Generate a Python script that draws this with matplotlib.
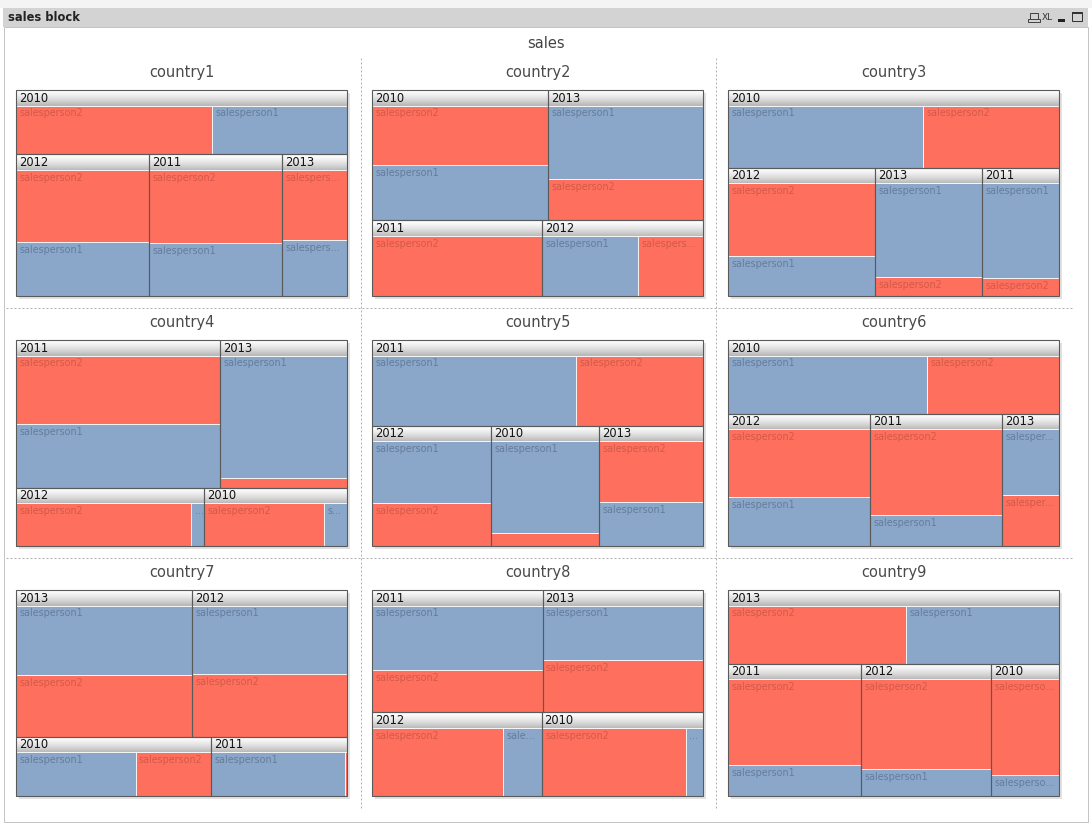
import numpy as np
import matplotlib
matplotlib.use("Agg")
import matplotlib.pyplot as plt
from matplotlib.patches import Rectangle

# data (sales per country / year / salesperson)
countries = ["country1", "country2", "country3",
             "country4", "country5", "country6",
             "country7", "country8", "country9"]
# years in the order they are laid out (largest first)
years = [
    ["2010", "2012", "2011", "2013"],
    ["2010", "2013", "2011", "2012"],
    ["2010", "2012", "2013", "2011"],
    ["2011", "2013", "2012", "2010"],
    ["2011", "2012", "2010", "2013"],
    ["2010", "2012", "2011", "2013"],
    ["2013", "2012", "2010", "2011"],
    ["2011", "2013", "2012", "2010"],
    ["2013", "2011", "2012", "2010"],
]
salesperson1 = [
    [127, 119, 115, 60],
    [162, 190, 0, 107],
    [222, 99, 168, 121],
    [214, 254, 11, 20],
    [257, 124, 168, 76],
    [215, 116, 67, 62],
    [200, 174, 104, 116],
    [185, 147, 47, 21],
    [165, 69, 59, 24],
]
salesperson2 = [
    [184, 158, 161, 76],
    [174, 106, 190, 72],
    [155, 177, 35, 23],
    [228, 21, 150, 102],
    [159, 86, 24, 107],
    [143, 160, 189, 48],
    [179, 159, 66, 2],
    [121, 141, 161, 177],
    [193, 189, 194, 107],
]
# how many years sit in the top row of each block
top_row = [1, 2, 1, 2, 1, 1, 2, 2, 1]

sp_names = ["salesperson1", "salesperson2"]
sp_colors = {"salesperson1": "#8aa7c9", "salesperson2": "#fe705d"}
sp_text = {"salesperson1": "#667c9b", "salesperson2": "#d25a4a"}

W, H = 1092, 825
fig = plt.figure(figsize=(W / 100, H / 100), dpi=100)
fig.patch.set_facecolor("white")
ax = fig.add_axes([0, 0, 1, 1])
ax.set_xlim(0, W)
ax.set_ylim(H, 0)
ax.axis("off")
renderer = fig.canvas.get_renderer()
PX = 0.72  # one pixel in points

# window frame
ax.add_patch(Rectangle((0, 0), W, 8, color="#f4f4f4", lw=0))
ax.add_patch(Rectangle((3, 8), 1085, 19, color="#d3d3d3", lw=0))
ax.add_patch(Rectangle((3.5, 27), 1084, 795, fc="white", ec="#c4c4c4", lw=PX))
ax.text(8, 17.5, "sales block", fontsize=8.3, fontweight="bold", color="#222222",
        va="center", ha="left")
ax.add_patch(Rectangle((1030, 13), 8, 6, fc="none", ec="#444444", lw=PX))
ax.add_patch(Rectangle((1028, 19), 12, 3, fc="none", ec="#444444", lw=PX))
ax.text(1042, 17.5, "XL", fontsize=6.5, color="#333333", va="center", ha="left")
ax.add_patch(Rectangle((1058, 19), 7, 2.5, color="#222222", lw=0))
ax.add_patch(Rectangle((1072, 12), 10, 9, fc="none", ec="#333333", lw=PX))
ax.add_patch(Rectangle((1072, 12), 10, 2, color="#333333", lw=0))

ax.text(546, 43, "sales", fontsize=10.5, color="#444444", ha="center", va="center")

# dashed separators between the small multiples
for xs in (361, 716):
    ax.plot([xs, xs], [58, 808], ls=(0, (2, 2)), color="#b0b0b0", lw=PX)
for ys in (308, 558):
    ax.plot([6, 1072], [ys, ys], ls=(0, (2, 2)), color="#b0b0b0", lw=PX)

col_x = [16, 372, 728]
row_y = [90, 340, 590]
PW, PH = 331, 206
HDR = 15.5

grad = 1.0 - 0.26 * np.linspace(0, 1, 16) ** 1.4
grad = np.repeat(grad[:, None, None], 3, axis=2)


def fit_label(text, maxw):
    t = ax.text(0, 0, text, fontsize=6.9)
    s = text
    if t.get_window_extent(renderer).width <= maxw:
        t.remove()
        return s
    while len(s) > 0:
        s = s[:-1]
        t.set_text(s + "...")
        if t.get_window_extent(renderer).width <= maxw:
            break
    t.remove()
    return s + "..."


def layout_years(totals, n_top, x, y, w, h):
    rows = [list(range(n_top)), list(range(n_top, len(totals)))]
    total = sum(totals)
    out = {}
    cy = y
    for row in rows:
        rsum = sum(totals[i] for i in row)
        rh = h * rsum / total
        cx = x
        for i in row:
            rw = w * totals[i] / rsum
            out[i] = (cx, cy, rw, rh)
            cx += rw
        cy += rh
    return out


for k, country in enumerate(countries):
    px = col_x[k % 3]
    py = row_y[k // 3]
    ax.text(px + PW / 2, py - 18, country, fontsize=10.5, color="#4a4a4a",
            ha="center", va="center")
    # drop shadow
    ax.add_patch(Rectangle((px + 2.5, py + 2.5), PW, PH, color="#e2e2e2", lw=0, zorder=1))
    ax.add_patch(Rectangle((px + 1.2, py + 1.2), PW, PH, color="#b8b8b8", lw=0, zorder=1))

    totals = [a + b for a, b in zip(salesperson1[k], salesperson2[k])]
    rects = layout_years(totals, top_row[k], px, py, PW, PH)
    for i, yr in enumerate(years[k]):
        bx, by, bw, bh = rects[i]
        # header with gradient
        ax.imshow(grad, extent=(bx, bx + bw, by + HDR, by), aspect="auto",
                  interpolation="bilinear", vmin=0, vmax=1, zorder=2)
        ax.text(bx + 3, by + HDR / 2 + 0.5, yr, fontsize=8.3, color="#111111",
                ha="left", va="center", zorder=6)
        cx, cy, cw, ch = bx, by + HDR, bw, bh - HDR
        items = [(salesperson1[k][i], sp_names[0]), (salesperson2[k][i], sp_names[1])]
        items = [it for it in items if it[0] > 0]
        items.sort(key=lambda it: -it[0])
        tot = sum(v for v, _ in items)
        side = cw / ch > 2
        off = 0
        for v, name in items:
            if side:
                r = (cx + off, cy, cw * v / tot, ch)
                off += cw * v / tot
            else:
                r = (cx, cy + off, cw, ch * v / tot)
                off += ch * v / tot
            patch = Rectangle((r[0], r[1]), r[2], r[3], fc=sp_colors[name],
                              ec="#f2f2f2", lw=PX, zorder=3)
            ax.add_patch(patch)
            if r[2] >= 8 and r[3] >= 15:
                lab = fit_label(name, r[2] - 6)
                t = ax.text(r[0] + 3.5, r[1] + 3, lab, fontsize=6.9,
                            color=sp_text[name], ha="left", va="top", zorder=4)
                t.set_clip_path(patch)
        ax.plot([bx, bx + bw], [by + HDR, by + HDR], color="#f4f4f4", lw=PX, zorder=5)
        ax.add_patch(Rectangle((bx, by), bw, bh, fc="none", ec="#5a5a5a",
                               lw=1.1 * PX, zorder=5))

ax.set_xlim(0, W)
ax.set_ylim(H, 0)
fig.savefig("out.png", dpi=100, facecolor="white")
